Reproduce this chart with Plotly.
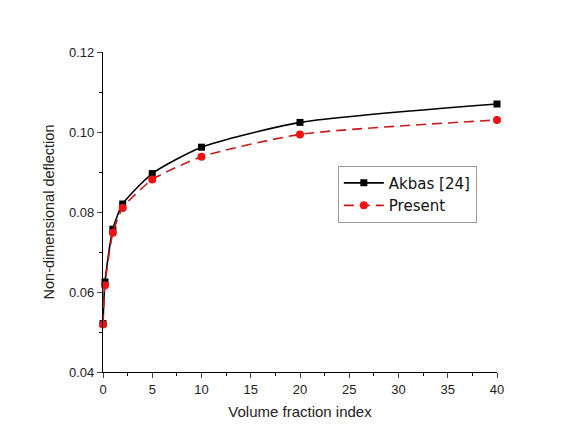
import plotly.graph_objects as go

vf_index = [0, 0.2, 1, 2, 5, 10, 20, 40]
akbas = [0.0521, 0.0625, 0.0757, 0.0820, 0.0896, 0.0962, 0.1024, 0.1070]
present = [0.0519, 0.0617, 0.0748, 0.0810, 0.0881, 0.0938, 0.0994, 0.1030]

fig = go.Figure()
fig.add_trace(go.Scatter(x=vf_index, y=akbas, name="Akbas [24]", mode="lines+markers",
                         line=dict(color="black", width=1.6, shape="spline", smoothing=0.6),
                         marker=dict(symbol="square", size=7, color="black"), cliponaxis=False))
fig.add_trace(go.Scatter(x=vf_index, y=present, name="Present", mode="lines+markers",
                         line=dict(color="#cc1a1a", width=1.6, dash="10px,6px", shape="spline", smoothing=0.6),
                         marker=dict(symbol="circle", size=8, color="#ee1111"), cliponaxis=False))

axis_font = dict(family="Arial, Liberation Sans", size=13, color="#222")
fig.update_layout(
    width=572, height=440,
    margin=dict(l=95, r=83, t=44, b=76),
    plot_bgcolor="white", paper_bgcolor="white",
    font=dict(family="Arial, Liberation Sans", color="#222"),
    showlegend=True,
    legend=dict(x=0.596, y=0.645, xanchor="left", yanchor="top",
                bordercolor="#999", borderwidth=1, bgcolor="white", itemwidth=40,
                font=dict(family="DejaVu Sans", size=15, color="#111"), tracegroupgap=0),
    xaxis=dict(range=[0, 40], tick0=0, dtick=5, ticks="outside", ticklen=5,
               showline=True, linecolor="black", linewidth=1.3, showgrid=False, zeroline=False,
               tickfont=axis_font,
               minor=dict(dtick=2.5, ticks="outside", ticklen=3, tickcolor="black"),
               title=dict(text="Volume fraction index", font=dict(size=15), standoff=10)),
    yaxis=dict(range=[0.04, 0.12], dtick=0.02, tickformat=".2f", ticks="outside", ticklen=5,
               showline=True, linecolor="black", linewidth=1.3, showgrid=False, zeroline=False,
               tickfont=axis_font,
               minor=dict(dtick=0.01, ticks="outside", ticklen=3, tickcolor="black"),
               title=dict(text="Non-dimensional deflection", font=dict(size=14.5), standoff=10)),
)

fig.write_html("out.html")
